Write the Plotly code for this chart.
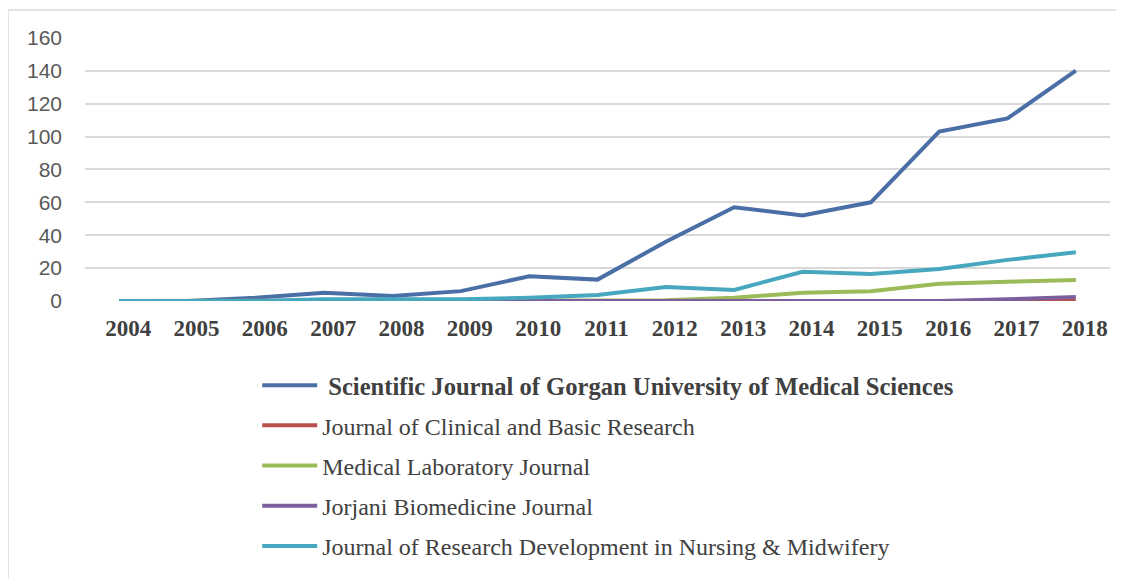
import plotly.graph_objects as go

years = ["2004", "2005", "2006", "2007", "2008", "2009", "2010", "2011",
         "2012", "2013", "2014", "2015", "2016", "2017", "2018"]

gorgan = [0, 0, 2, 5, 3, 6, 15, 13, 36, 57, 52, 60, 103, 111, 140]
clinical = [0, 0, 0, 0, 0, 0, 0, 0, 0, 0, 0, 0, 0, 0, 0]
medlab = [0, 0, 0, 0, 0, 0, 0, 0, 0.5, 2, 5, 6, 10.5, 11.7, 12.7]
jorjani = [0, 0, 0, 0, 0, 0, 0, 0, 0, 0, 0, 0, 0, 1, 2.5]
nursing = [0, 0, 0, 1, 1, 1, 2, 3.6, 8.5, 6.7, 17.8, 16.4, 19.4, 25, 29.7]

names = [
    "&nbsp;<span style=\"font-size:24.6px\"><b>Scientific Journal of Gorgan University of Medical Sciences</b></span>",
    "Journal of Clinical and Basic Research",
    "Medical Laboratory Journal",
    "Jorjani Biomedicine Journal",
    "Journal of Research Development in Nursing &amp; Midwifery",
]
series = [gorgan, clinical, medlab, jorjani, nursing]
colors = ["#4A6EA6", "#B9504D", "#9BBB59", "#7D5F9E", "#47A7BF"]

# plot area (figure px): x 77..1102, y 29..293
L, R, T, B = 77, 22, 29, 286
PW, PH = 1124 - L - R, 579 - T - B

fig = go.Figure()
for i, (nm, vals, col) in enumerate(zip(names, series, colors)):
    fig.add_trace(go.Scatter(
        x=years, y=vals, name=nm, mode="lines",
        line=dict(color=col, width=4),
        legendgroup=f"g{i}",
    ))

fig.update_layout(
    width=1124, height=579,
    margin=dict(l=L, r=R, t=T, b=B, autoexpand=False),
    paper_bgcolor="white", plot_bgcolor="white",
    showlegend=True,
    legend=dict(
        orientation="v",
        x=0.168, xanchor="left",
        y=-0.235, yanchor="top",
        font=dict(family="Liberation Serif", size=24, color="#404040"),
        tracegroupgap=6,
        itemwidth=55,
        bgcolor="rgba(0,0,0,0)",
    ),
    shapes=[dict(
        type="rect", xref="paper", yref="paper",
        x0=(0 - L) / PW, x1=(1135 - L) / PW,
        y0=-(600 - (T + PH)) / PH, y1=(T + PH - 2) / PH,
        line=dict(color="#D9D9D9", width=1.5),
        layer="below",
    )],
)

fig.update_xaxes(
    type="category",
    range=[-0.5, 14.5],
    automargin=False,
    showgrid=False, showline=False, zeroline=False,
    tickfont=dict(family="Liberation Serif", size=23, color="#404040"),
    tickprefix="<b>", ticksuffix="</b>",
    ticklabelshift=9,
    ticklabelstandoff=11,
    ticks="",
)
fig.update_yaxes(
    range=[0, 160.5],
    automargin=False,
    tickvals=[0, 20, 40, 60, 80, 100, 120, 140, 160],
    showgrid=True, gridcolor="#D9D9D9", gridwidth=1.5,
    zeroline=False, showline=False,
    tickfont=dict(family="Liberation Sans", size=21, color="#595959"),
    ticklabelstandoff=22,
    ticks="",
)

fig.write_html("out.html")
